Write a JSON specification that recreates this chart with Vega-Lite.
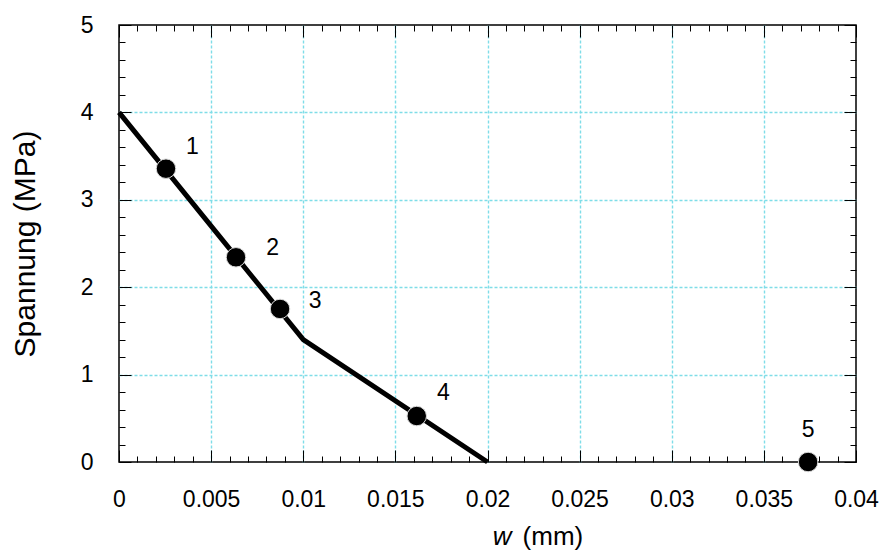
{
  "$schema": "https://vega.github.io/schema/vega-lite/v6.json",
  "width": 737,
  "height": 437,
  "autosize": {"type": "none"},
  "padding": {"left": 119, "top": 25, "right": 27, "bottom": 92},
  "background": "white",
  "config": {
    "font": "Liberation Sans",
    "view": {"stroke": "#000", "strokeWidth": 1.5},
    "axis": {"domain": false, "labelColor": "#000", "titleColor": "#000", "titleFontWeight": "normal", "labelFont": "Liberation Sans", "titleFont": "Liberation Sans"}
  },
  "datasets": {
    "curve": [{"w": 0, "s": 4}, {"w": 0.01, "s": 1.4}, {"w": 0.02, "s": 0}],
    "points": [
      {"id": "1", "w": 0.00255, "s": 3.356, "lw": 0.00398, "ls": 3.6},
      {"id": "2", "w": 0.00635, "s": 2.342, "lw": 0.00834, "ls": 2.445},
      {"id": "3", "w": 0.00874, "s": 1.751, "lw": 0.01064, "ls": 1.842},
      {"id": "4", "w": 0.01616, "s": 0.526, "lw": 0.0176, "ls": 0.793},
      {"id": "5", "w": 0.0374, "s": 0, "lw": 0.0374, "ls": 0.366}
    ],
    "xtitle": [{"t": "w", "w": 0.0208, "s": -0.858}],
    "xunit": [{"t": "(mm)", "w": 0.02355, "s": -0.858}]
  },
  "layer": [
    {
      "data": {"name": "curve"},
      "mark": {"type": "line", "color": "#000", "strokeWidth": 5, "strokeJoin": "miter"},
      "encoding": {
        "x": {
          "field": "w", "type": "quantitative",
          "scale": {"domain": [0, 0.04], "nice": false, "zero": false},
          "axis": {
            "orient": "bottom", "title": null,
            "values": [0,0.001,0.002,0.003,0.004,0.005,0.006,0.007,0.008,0.009,0.01,0.011,0.012,0.013,0.014,0.015,0.016,0.017,0.018,0.019,0.02,0.021,0.022,0.023,0.024,0.025,0.026,0.027,0.028,0.029,0.03,0.031,0.032,0.033,0.034,0.035,0.036,0.037,0.038,0.039,0.04],
            "tickSize": -12, "tickColor": "#000", "tickWidth": 1,
            "tickDash": {"condition": {"test": "abs(datum.value*200-round(datum.value*200))<1e-6", "value": []}, "value": [6, 60]},
            "labelExpr": "abs(datum.value*200-round(datum.value*200))<1e-6 ? format(datum.value,'~g') : ''",
            "labelFontSize": 23, "labelPadding": 38, "labelOverlap": false, "labelFlush": false,
            "grid": true, "gridColor": "#7fdde8", "gridDash": [3, 2], "gridWidth": 1.4,
            "gridOpacity": {"condition": {"test": "abs(datum.value*200-round(datum.value*200))<1e-6 && datum.value>0.0001 && datum.value<0.0399", "value": 1}, "value": 0}
          }
        },
        "y": {
          "field": "s", "type": "quantitative",
          "scale": {"domain": [0, 5], "nice": false, "zero": false},
          "axis": {
            "orient": "left", "title": "Spannung (MPa)", "titleFontSize": 30, "titlePadding": 40,
            "values": [0,0.2,0.4,0.6,0.8,1,1.2,1.4,1.6,1.8,2,2.2,2.4,2.6,2.8,3,3.2,3.4,3.6,3.8,4,4.2,4.4,4.6,4.8,5],
            "tickSize": -12, "tickColor": "#000", "tickWidth": 1,
            "tickDash": {"condition": {"test": "abs(datum.value-round(datum.value))<1e-6", "value": []}, "value": [6, 60]},
            "labelExpr": "abs(datum.value-round(datum.value))<1e-6 ? format(datum.value,'~g') : ''",
            "labelFontSize": 23, "labelPadding": 38, "labelOverlap": false, "labelFlush": false,
            "grid": true, "gridColor": "#7fdde8", "gridDash": [3, 2], "gridWidth": 1.4,
            "gridOpacity": {"condition": {"test": "abs(datum.value-round(datum.value))<1e-6 && datum.value>0.01 && datum.value<4.99", "value": 1}, "value": 0}
          }
        }
      }
    },
    {
      "data": {"name": "points"},
      "mark": {"type": "circle", "color": "#000", "opacity": 1, "size": 380, "stroke": "#d8d8d8", "strokeWidth": 1},
      "encoding": {
        "x": {
          "field": "w", "type": "quantitative",
          "axis": {
            "orient": "top", "title": null, "labels": false, "grid": false,
            "values": [0,0.001,0.002,0.003,0.004,0.005,0.006,0.007,0.008,0.009,0.01,0.011,0.012,0.013,0.014,0.015,0.016,0.017,0.018,0.019,0.02,0.021,0.022,0.023,0.024,0.025,0.026,0.027,0.028,0.029,0.03,0.031,0.032,0.033,0.034,0.035,0.036,0.037,0.038,0.039,0.04],
            "tickSize": -12, "tickColor": "#000", "tickWidth": 1,
            "tickDash": {"condition": {"test": "abs(datum.value*200-round(datum.value*200))<1e-6", "value": []}, "value": [6, 60]}
          }
        },
        "y": {
          "field": "s", "type": "quantitative",
          "axis": {
            "orient": "right", "title": null, "labels": false, "grid": false,
            "values": [0,0.2,0.4,0.6,0.8,1,1.2,1.4,1.6,1.8,2,2.2,2.4,2.6,2.8,3,3.2,3.4,3.6,3.8,4,4.2,4.4,4.6,4.8,5],
            "tickSize": -12, "tickColor": "#000", "tickWidth": 1,
            "tickDash": {"condition": {"test": "abs(datum.value-round(datum.value))<1e-6", "value": []}, "value": [6, 60]}
          }
        }
      }
    },
    {
      "data": {"name": "points"},
      "mark": {"type": "text", "fontSize": 23, "color": "#000", "align": "center", "baseline": "middle"},
      "encoding": {
        "x": {"field": "lw", "type": "quantitative", "axis": null},
        "y": {"field": "ls", "type": "quantitative", "axis": null},
        "text": {"field": "id"}
      }
    },
    {
      "data": {"name": "xtitle"},
      "mark": {"type": "text", "fontSize": 26, "fontStyle": "italic", "color": "#000", "align": "center", "baseline": "middle"},
      "encoding": {
        "x": {"field": "w", "type": "quantitative", "axis": null},
        "y": {"field": "s", "type": "quantitative", "axis": null},
        "text": {"field": "t"}
      }
    },
    {
      "data": {"name": "xunit"},
      "mark": {"type": "text", "fontSize": 26, "color": "#000", "align": "center", "baseline": "middle"},
      "encoding": {
        "x": {"field": "w", "type": "quantitative", "axis": null},
        "y": {"field": "s", "type": "quantitative", "axis": null},
        "text": {"field": "t"}
      }
    }
  ],
  "resolve": {"axis": {"x": "independent", "y": "independent"}}
}
